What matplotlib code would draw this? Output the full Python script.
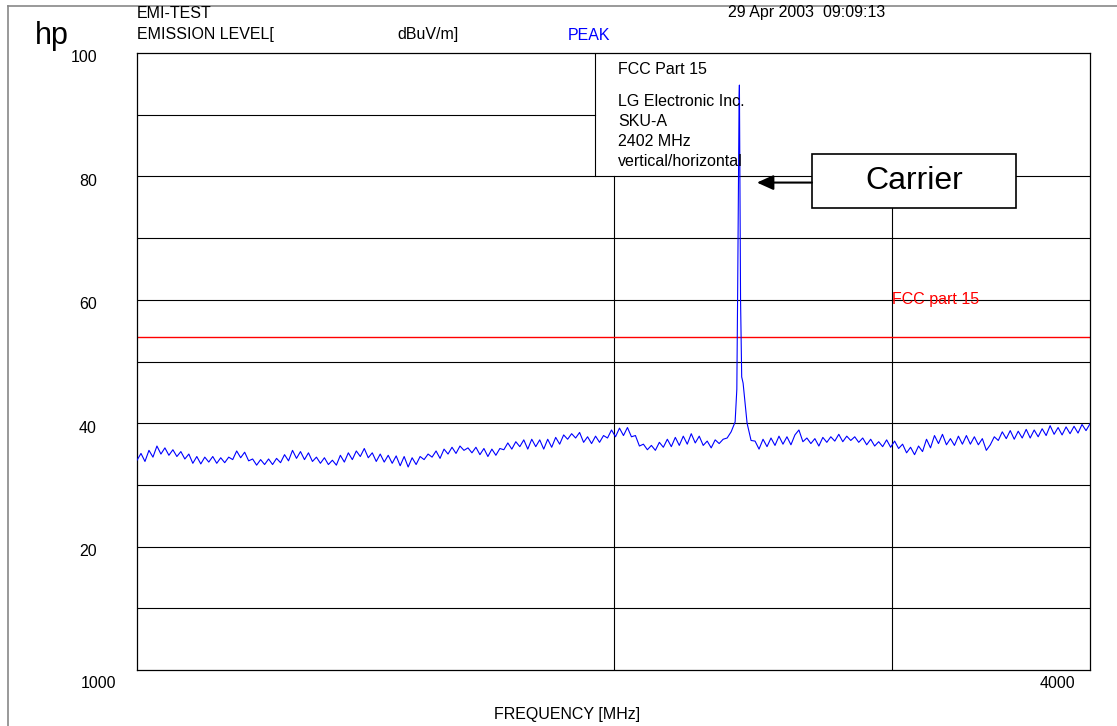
import numpy as np
import matplotlib
matplotlib.use("Agg")
import matplotlib.pyplot as plt
from matplotlib.patches import Rectangle
from matplotlib.lines import Line2D

plt.rcParams['font.family'] = ['Liberation Sans', 'DejaVu Sans']

# sweep: 240 points, log spaced from 1000 to 4000 MHz
f_start, f_stop = 1000, 4000
levels = [
    34.0, 35.1, 33.8, 35.6, 34.5, 36.3, 35.0, 36.0, 34.8, 35.7, 34.6, 35.4,
    34.2, 35.0, 33.5, 34.6, 33.4, 34.5, 33.7, 34.6, 33.5, 34.4, 33.6, 34.5,
    34.1, 35.5, 34.4, 35.3, 33.9, 34.2, 33.2, 34.1, 33.3, 34.2, 33.3, 34.3,
    33.6, 34.9, 33.9, 35.6, 34.3, 35.4, 34.1, 35.2, 33.8, 34.5, 33.5, 34.4,
    33.3, 34.0, 33.2, 34.8, 33.7, 35.2, 34.1, 35.5, 34.6, 35.9, 34.4, 35.2,
    33.8, 35.0, 33.7, 34.8, 33.5, 34.7, 33.1, 34.6, 32.9, 34.4, 33.3, 34.6,
    34.1, 35.0, 34.5, 35.5, 34.3, 35.8, 35.0, 36.1, 35.1, 36.3, 35.6, 36.0,
    35.2, 36.1, 34.9, 35.9, 34.6, 35.8, 34.8, 35.9, 35.7, 36.8, 35.8, 37.0,
    36.2, 37.3, 35.8, 37.4, 36.2, 37.3, 35.8, 37.4, 36.1, 37.7, 36.6, 38.1,
    37.4, 38.3, 37.6, 38.5, 36.9, 37.8, 36.7, 37.9, 36.9, 38.0, 37.6, 38.9,
    37.8, 39.2, 38.0, 39.3, 37.8, 38.0, 36.3, 36.6, 35.7, 36.4, 35.6, 36.9,
    36.1, 37.4, 36.2, 37.7, 36.4, 37.9, 36.6, 38.3, 36.8, 37.9, 36.4, 37.1,
    36.0, 37.3, 36.7, 37.4, 37.6, 38.6, 40.2, 93.0, 46.5, 40.0, 37.2, 37.1,
    35.8, 37.4, 36.2, 37.6, 36.4, 37.9, 36.6, 37.8, 36.5, 38.1, 38.9, 37.0,
    37.6, 36.7, 37.5, 36.3, 37.7, 36.9, 37.8, 37.1, 38.2, 37.0, 37.9, 37.2,
    37.8, 36.9, 37.6, 36.5, 37.4, 36.3, 37.0, 36.2, 37.3, 36.1, 37.1, 35.9,
    36.6, 35.2, 36.1, 34.9, 36.3, 35.4, 37.4, 36.0, 38.0, 36.7, 38.2, 36.5,
    37.5, 36.4, 37.9, 36.6, 38.0, 36.6, 37.8, 36.5, 37.5, 35.6, 36.5, 37.8,
    37.2, 38.6, 37.5, 38.8, 37.4, 38.7, 37.6, 39.0, 37.6, 38.9, 37.8, 39.1,
    38.0, 39.6, 38.2, 39.3, 38.1, 39.4, 38.3, 39.5, 38.4, 39.8, 38.8, 39.9,
]
# carrier at 2402 MHz
peak_freq = [2393, 2396, 2402, 2406, 2410]
peak_level = [45.5, 62.0, 94.8, 60.0, 47.5]

limit_level = 54.0
limit_label = "FCC part 15"
info_lines = ["LG Electronic Inc.", "SKU-A", "2402 MHz", "vertical/horizontal"]

freq = np.geomspace(f_start, f_stop, len(levels))
freq = np.concatenate([freq, peak_freq])
lev = np.concatenate([levels, peak_level])
order = np.argsort(freq)
freq, lev = freq[order], lev[order]

W, H = 1117, 726
fig = plt.figure(figsize=(W / 100, H / 100), dpi=100)
FS = 11.5


def fp(x, y):
    return x / W, 1 - y / H


ax = fig.add_axes([137 / W, 1 - 670 / H, 953 / W, 617 / H])
ax.set_xscale('log')
ax.set_xlim(f_start, f_stop)
ax.set_ylim(0, 100)
ax.set_xticks([])
ax.set_yticks([])
ax.minorticks_off()
for s in ax.spines.values():
    s.set_linewidth(0.9)

# grid
for y in range(10, 90, 10):
    ax.axhline(y, color='black', lw=0.8, zorder=1)
ax.axhline(90, xmin=0, xmax=(595 - 137) / 953, color='black', lw=0.8, zorder=1)
ax.axvline(2000, ymin=0, ymax=0.8, color='black', lw=0.8, zorder=1)
ax.axvline(3000, ymin=0, ymax=0.8, color='black', lw=0.8, zorder=1)
box_f = f_start * 4 ** ((595 - 137) / 953)
ax.axvline(box_f, ymin=0.8, ymax=1, color='black', lw=0.8, zorder=1)

ax.axhline(limit_level, color='red', lw=1.0, zorder=2)
ax.text(3000, 60, limit_label, color='red', fontsize=FS, va='center', ha='left')

ax.plot(freq, lev, color='blue', lw=0.8, zorder=3)

# carrier annotation
ax.add_patch(Rectangle((2669, 74.9), 3591 - 2669, 83.6 - 74.9, facecolor='white',
                       edgecolor='black', lw=1.2, zorder=4))
ax.text(np.sqrt(2669 * 3591), 79.25, "Carrier", fontsize=23, ha='center', va='center', zorder=5)
ax.annotate('', xy=(2464, 79.0), xytext=(2669, 79.0),
            arrowprops=dict(arrowstyle='-|>,head_length=1.0,head_width=0.45',
                            color='black', lw=1.5, shrinkA=0, shrinkB=0), zorder=5)

# y labels
for v in [100, 80, 60, 40, 20]:
    y = 670 - v * 6.17 + 5
    fig.text(*fp(97, y), str(v), fontsize=FS, ha='right', va='center')
fig.text(*fp(98, 683), "1000", fontsize=FS, ha='center', va='center')
fig.text(*fp(1057, 683), "4000", fontsize=FS, ha='center', va='center')
fig.text(*fp(567, 715), "FREQUENCY [MHz]", fontsize=FS, ha='center', va='center')

# header
fig.text(*fp(52, 36), "hp", fontsize=22, ha='center', va='center')
fig.text(*fp(137, 13), "EMI-TEST", fontsize=FS, ha='left', va='center')
fig.text(*fp(137, 35), "EMISSION LEVEL[", fontsize=FS, ha='left', va='center')
fig.text(*fp(397, 35), "dBuV/m]", fontsize=FS, ha='left', va='center')
fig.text(*fp(568, 35), "PEAK", fontsize=FS, ha='left', va='center', color='blue')
fig.text(*fp(728, 13), "29 Apr 2003  09:09:13", fontsize=FS, ha='left', va='center')

fig.text(*fp(618, 70), "FCC Part 15", fontsize=FS, ha='left', va='center')
for i, t in enumerate(info_lines):
    fig.text(*fp(618, 102 + i * 19.7), t, fontsize=FS, ha='left', va='center')

# page frame
fig.add_artist(Line2D([8 / W, 1], [1 - 6 / H, 1 - 6 / H], color='#888888', lw=1.2))
fig.add_artist(Line2D([8 / W, 8 / W], [0, 1 - 6 / H], color='#888888', lw=1.2))

fig.savefig("out.png", dpi=100)
